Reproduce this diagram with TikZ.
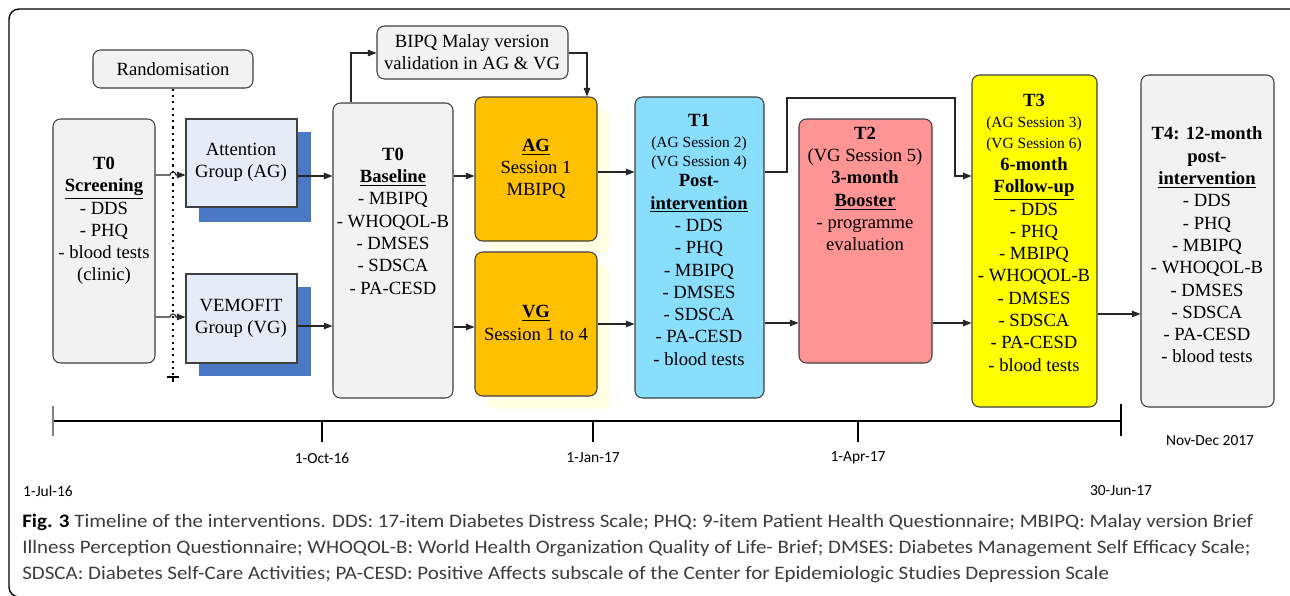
\documentclass[tikz,border=0pt]{standalone}
\usepackage{fontspec}
\setmainfont{Liberation Serif}
\newfontfamily\datefont{Carlito}
\newfontfamily\capfont[FakeStretch=1.1]{Carlito}
\usetikzlibrary{arrows.meta,fit}
\definecolor{boxgrey}{HTML}{F2F2F2}
\definecolor{edgegrey}{HTML}{3F3F3F}
\definecolor{groupblue}{HTML}{E6ECF7}
\definecolor{shadeblue}{HTML}{4A78C4}
\definecolor{sessorange}{HTML}{FFC000}
\definecolor{shadeyellow}{HTML}{FFFFE3}
\definecolor{tonecyan}{HTML}{89DDFD}
\definecolor{ttwored}{HTML}{FF9494}
\definecolor{tthreeyellow}{HTML}{FFFF00}
\definecolor{captiongrey}{HTML}{3C3C3C}
\newcommand\sesssize{\fontsize{8.8}{10}\selectfont}
\newcommand\ulb[1]{\textbf{\underline{#1}}}

\begin{document}
\begin{tikzpicture}[x=0.02cm,y=-0.02cm,
  box/.style={draw=edgegrey,line width=0.6pt,rounded corners=0.15cm,inner sep=0pt},
  group/.style={draw=edgegrey,line width=0.6pt,fill=groupblue,inner sep=0pt},
  txt/.style={align=center,font=\fontsize{10.6}{12.7}\selectfont,inner sep=0pt},
  arr/.style={-{Triangle[length=0.17cm,width=0.13cm]},line width=0.6pt,draw=black!85},
  date/.style={font=\datefont\fontsize{8.8}{10}\selectfont,inner sep=0pt}]
\useasboundingbox (0,0) rectangle (1290,595);
\draw[line width=0.8pt,rounded corners=0.2cm] (1300,9) -- (9,9) -- (9,597) -- (40,597);

\fill[shadeblue] (199,132) rectangle (311,222);
\fill[shadeblue] (199,287) rectangle (311,376);
\fill[shadeyellow,rounded corners=0.15cm] (488,110) rectangle (610,253);
\fill[shadeyellow,rounded corners=0.15cm] (488,265) rectangle (610,409);

\node[box,fill=boxgrey,fit={(93,50) (253,88)}] (rand) {};
\node[box,fill=boxgrey,fit={(53,119) (155,363)}] (scr) {};
\node[group,fit={(186,119) (297,207)}] (ag) {};
\node[group,fit={(186,274) (297,363)}] (vg) {};
\node[box,fill=boxgrey,fit={(377,26) (568,79)}] (bipq) {};
\node[box,fill=boxgrey,fit={(333,103) (453,398)}] (base) {};
\node[box,fill=sessorange,fit={(475,97) (597,241)}] (agses) {};
\node[box,fill=sessorange,fit={(475,252) (597,396)}] (vgses) {};
\node[box,fill=tonecyan,fit={(635,97) (764,398)}] (tone) {};
\node[box,fill=ttwored,fit={(799,119) (932,363)}] (ttwo) {};
\node[box,fill=tthreeyellow,fit={(972,75) (1097,407)}] (tthree) {};
\node[box,fill=boxgrey,fit={(1141,75) (1274,407)}] (tfour) {};

\node[txt] (randtxt) at (173,69) {Randomisation};
\node[txt] (scrtxt) at (104,221) {\textbf{T0}\\ \ulb{Screening}\\ - DDS\\ - PHQ\\ - blood tests\\ (clinic)};
\node[txt] (agtxt) at (241,162) {Attention\\ Group (AG)};
\node[txt] (vgtxt) at (241,318) {VEMOFIT\\ Group (VG)};
\node[txt] (bipqtxt) at (472,52) {BIPQ Malay version\\ validation in AG \& VG};
\node[txt] (basetxt) at (393,221) {\textbf{T0}\\ \ulb{Baseline}\\ - MBIPQ\\ - WHOQOL-B\\ - DMSES\\ - SDSCA\\ - PA-CESD};
\node[txt] (agsestxt) at (536,169) {\ulb{AG}\\ Session 1\\ MBIPQ};
\node[txt] (vgsestxt) at (536,323) {\ulb{VG}\\ Session 1 to 4};
\node[txt] (tonetxt) at (699,240) {\textbf{T1}\\[-1pt] {\sesssize (AG Session 2)}\\[-2pt] {\sesssize (VG Session 4)}\\[-1pt] \textbf{Post-}\\ \ulb{intervention}\\ - DDS\\ - PHQ\\ - MBIPQ\\ - DMSES\\ - SDSCA\\ - PA-CESD\\ - blood tests};
\node[txt] (ttwotxt) at (865,189) {\textbf{T2}\\ (VG Session 5)\\ \textbf{3-month}\\ \ulb{Booster}\\ - programme\\ evaluation};
\node[txt] (tthreetxt) at (1034,233) {\textbf{T3}\\[-1pt] {\sesssize (AG Session 3)}\\[-1pt] {\sesssize (VG Session 6)}\\ \textbf{6-month}\\ \ulb{Follow-up}\\ - DDS\\ - PHQ\\ - MBIPQ\\ - WHOQOL-B\\ - DMSES\\ - SDSCA\\ - PA-CESD\\ - blood tests};
\node[txt] (tfourtxt) at (1207,245) {\textbf{T4: 12-month}\\ \textbf{post-}\\ \ulb{intervention}\\ - DDS\\ - PHQ\\ - MBIPQ\\ - WHOQOL-B\\ - DMSES\\ - SDSCA\\ - PA-CESD\\ - blood tests};

\draw[line width=1.2pt,dash pattern=on 1.2pt off 2.4pt] (rand.south) -- (173,376);
\draw[line width=0.7pt] (167,377) -- (179,377);
\draw[line width=0.7pt] (173,377) -- (173,382);

\draw[arr] (scr.east |- 0,175) -- (170,175) arc[start angle=180,end angle=0,radius=0.06cm] -- (ag.west |- 0,175);
\draw[arr] (scr.east |- 0,317) -- (170,317) arc[start angle=180,end angle=0,radius=0.06cm] -- (vg.west |- 0,317);
\draw[arr] (ag.east |- 0,176) -- (base.west |- 0,176);
\draw[arr] (vg.east |- 0,326) -- (base.west |- 0,326);
\draw[arr] (base.north -| 351,0) |- (bipq.west |- 0,53);
\draw[arr] (bipq.east |- 0,53) -| (agses.north -| 587,0);
\draw[arr] (base.east |- 0,176) -- (agses.west |- 0,176);
\draw[arr] (base.east |- 0,327) -- (vgses.west |- 0,327);
\draw[arr] (agses.east |- 0,172) -- (tone.west |- 0,172);
\draw[arr] (vgses.east |- 0,324) -- (tone.west |- 0,324);
\draw[arr] (tone.east |- 0,172) -- (787,172) -- (787,98) -- (955,98) -- (955,176) -- (tthree.west |- 0,176);
\draw[arr] (tone.east |- 0,323) -- (ttwo.west |- 0,323);
\draw[arr] (ttwo.east |- 0,323) -- (tthree.west |- 0,323);
\draw[arr] (tthree.east |- 0,314) -- (tfour.west |- 0,314);

\draw[line width=0.6pt] (53,421) -- (1121,421);
\draw[gray,line width=0.8pt] (53,406) -- (53,436);
\draw[line width=0.6pt] (322,421) -- (322,442);
\draw[line width=0.6pt] (593,421) -- (593,442);
\draw[line width=0.6pt] (858,421) -- (858,442);
\draw[line width=0.6pt] (1121,404) -- (1121,436);
\node[date] (oct) at (322,458) {1-Oct-16};
\node[date] (jan) at (593,458) {1-Jan-17};
\node[date] (apr) at (858,458) {1-Apr-17};
\node[date] (jul) at (48,491) {1-Jul-16};
\node[date] (jun) at (1121,491) {30-Jun-17};
\node[date] (novdec) at (1210,441) {Nov-Dec 2017};

\node[anchor=west,align=left,inner sep=0pt,text=captiongrey,font=\capfont\fontsize{10.85}{14.8}\selectfont] (caption) at (22,548)
 {{\color{black}\textbf{Fig. 3}} Timeline of the interventions. DDS: 17-item Diabetes Distress Scale; PHQ: 9-item Patient Health Questionnaire; MBIPQ: Malay version Brief\\
 Illness Perception Questionnaire; WHOQOL-B: World Health Organization Quality of Life- Brief; DMSES: Diabetes Management Self Efficacy Scale;\\
 SDSCA: Diabetes Self-Care Activities; PA-CESD: Positive Affects subscale of the Center for Epidemiologic Studies Depression Scale};
\end{tikzpicture}
\end{document}
